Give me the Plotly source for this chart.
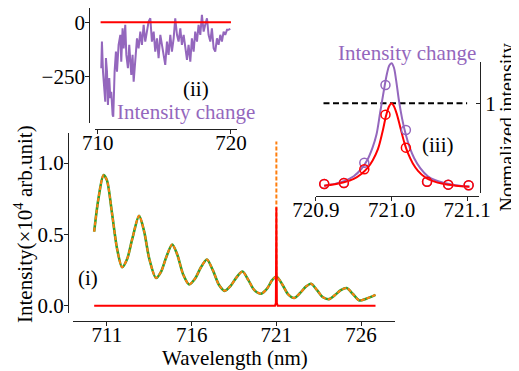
import plotly.graph_objects as go

# The page body has an 8px margin, so the figure is sized to fit the window
# and reference-pixel coordinates are shifted by that margin.
OFF = 8
W, H = 519 - OFF, 371 - OFF
def PX(x): return (x - OFF) / W
def PY(y): return 1 - (y - OFF) / H

FONT = "Liberation Serif"
FS = 21
GREEN = "#2ca02c"
ORANGE = "#ff7f0e"
RED = "#ff0000"
PURPLE = "#9467bd"

# ---------------- (i) main spectrum ----------------
main_wl = [710.25, 710.5, 710.8, 711.0, 711.3, 711.6, 711.9, 712.2, 712.5, 712.9,
           713.2, 713.5, 713.9, 714.2, 714.5, 714.85, 715.15, 715.5, 715.85, 716.2,
           716.55, 716.9, 717.25, 717.6, 717.95, 718.3, 718.65, 719.0, 719.35, 719.7,
           720.1, 720.45, 720.75, 721.0, 721.35, 721.7, 722.05, 722.4, 722.75, 723.05,
           723.4, 723.75, 724.1, 724.45, 724.8, 725.15, 725.5, 725.9, 726.3, 726.85]
main_green = [0.52, 0.75, 0.915, 0.88, 0.65, 0.40, 0.27, 0.33, 0.47, 0.63,
              0.52, 0.33, 0.195, 0.24, 0.34, 0.43, 0.36, 0.22, 0.15, 0.19,
              0.27, 0.325, 0.25, 0.15, 0.105, 0.14, 0.2, 0.24, 0.18, 0.11,
              0.085, 0.12, 0.18, 0.205, 0.15, 0.08, 0.055, 0.09, 0.135, 0.155,
              0.11, 0.06, 0.047, 0.075, 0.11, 0.125, 0.085, 0.038, 0.05, 0.077]
orange_spike_wl = [721.0, 721.0]
orange_spike = [0.205, 1.15]
red_main_wl = [710.25, 720.92, 720.97, 721.0, 721.03, 721.08, 726.85]
red_main = [0.0, 0.0, 0.02, 0.69, 0.02, 0.0, 0.0]
main_xticks = [711, 716, 721, 726]
main_yticks = [0.0, 0.5, 1.0]

# ---------------- (ii) intensity change ----------------
ic_wl = [710.27, 710.32, 710.40, 710.47, 710.57, 710.62, 710.70, 710.77, 710.87, 710.95,
         711.02, 711.12, 711.17, 711.27, 711.37, 711.45, 711.57, 711.70, 711.77, 711.87,
         711.95, 712.07, 712.15, 712.27, 712.37, 712.52, 712.62, 712.70, 712.82, 712.95,
         713.07, 713.20, 713.32, 713.45, 713.57, 713.70, 713.82, 713.95, 714.07, 714.20,
         714.32, 714.45, 714.57, 714.70,
         714.82, 714.95, 715.07, 715.20, 715.32, 715.45, 715.57, 715.70, 715.82, 715.95,
         716.07, 716.20, 716.32, 716.45, 716.57, 716.70, 716.82, 716.95, 717.07, 717.20,
         717.32, 717.45, 717.57, 717.70, 717.82, 717.95, 718.07, 718.20, 718.32, 718.45,
         718.57, 718.70, 718.82, 718.95, 719.07, 719.20, 719.32, 719.45, 719.57, 719.70,
         719.82, 719.95]
ic_val = [-211, -89, -227, -303, -365, -165, -227, -380, -257, -349,
          -320, -425, -434, -227, -135, -227, -104, -58, -181, -28,
          -120, -12, -150, -211, -104, -242, -150, -273, -165, -74,
          -120, -43, -104, -12, -89, -43, 3, 18, -89, -43,
          -135, -74, -165, -58,
          -104, -165, -196, -89, -150, -58, -135, -74, 18, -58,
          -89, -28, -104, -58, -120, -173, -104, -181, -74, -135,
          -43, -89, -12, -58, 34, -43, -12, 18, -58, -89,
          -28, -120, -135, -74, -104, -58, -89, -43, -58, -35,
          -35, -30]
ic_zero_wl = [710.22, 720.0]
ic_zero = [0, 0]
ii_xticks = [710, 720]
ii_yticks = [0, -250]
ii_yticktext = ["0", "\u2212250"]

# ---------------- (iii) normalized peaks ----------------
pt_wl = [720.911, 720.937, 720.964, 720.992, 721.019, 721.047, 721.075, 721.102]
pt_red = [0.103, 0.114, 0.267, 0.874, 0.507, 0.129, 0.096, 0.089]
pt_purple = [0.103, 0.114, 0.340, 1.203, 0.703, 0.129, 0.096, 0.089]
fit_red_wl = [720.911, 720.925, 720.937, 720.950, 720.960, 720.968, 720.975, 720.982,
              720.988, 720.993, 720.997, 721.000, 721.003, 721.007, 721.012, 721.017,
              721.022, 721.028, 721.035, 721.045, 721.055, 721.068, 721.085, 721.103]
fit_red = [0.085, 0.100, 0.122, 0.160, 0.215, 0.280, 0.365, 0.490,
           0.680, 0.870, 0.970, 1.000, 0.970, 0.880, 0.720, 0.560,
           0.440, 0.335, 0.250, 0.175, 0.135, 0.105, 0.085, 0.074]
fit_purple_wl = [720.911, 720.925, 720.937, 720.950, 720.960, 720.968, 720.975, 720.980,
                 720.985, 720.990, 720.994, 720.997, 721.000, 721.003, 721.006, 721.010,
                 721.014, 721.018, 721.024, 721.030, 721.038, 721.048, 721.058, 721.070,
                 721.085, 721.103]
fit_purple = [0.085, 0.105, 0.135, 0.190, 0.270, 0.370, 0.510, 0.650,
              0.900, 1.150, 1.330, 1.420, 1.444, 1.400, 1.260, 1.020,
              0.830, 0.680, 0.510, 0.390, 0.280, 0.190, 0.145, 0.115,
              0.090, 0.075]
ref_wl = [720.91, 721.1]
ref_val = [1, 1]
iii_xticks = [720.9, 721.0, 721.1]
iii_xticktext = ["720.9", "721.0", "721.1"]
iii_yticks = [1]

fig = go.Figure()

# main
fig.add_trace(go.Scatter(x=main_wl, y=main_green, mode="lines", line=dict(color=GREEN, width=2.6, shape="spline", smoothing=0.8),
                         xaxis="x", yaxis="y", showlegend=False))
fig.add_trace(go.Scatter(x=main_wl, y=main_green, mode="lines", line=dict(color=ORANGE, width=2, dash="4px,2px", shape="spline", smoothing=0.8),
                         xaxis="x", yaxis="y", showlegend=False))
fig.add_trace(go.Scatter(x=orange_spike_wl, y=orange_spike, mode="lines", line=dict(color=ORANGE, width=2, dash="4px,2px"),
                         xaxis="x", yaxis="y", showlegend=False))
fig.add_trace(go.Scatter(x=red_main_wl, y=red_main, mode="lines", line=dict(color=RED, width=2),
                         xaxis="x", yaxis="y", showlegend=False))

# inset ii
fig.add_trace(go.Scatter(x=ic_wl, y=ic_val, mode="lines", line=dict(color=PURPLE, width=2),
                         xaxis="x2", yaxis="y2", showlegend=False))
fig.add_trace(go.Scatter(x=ic_zero_wl, y=ic_zero, mode="lines", line=dict(color=RED, width=2),
                         xaxis="x2", yaxis="y2", showlegend=False))

# inset iii
fig.add_trace(go.Scatter(x=ref_wl, y=ref_val, mode="lines", line=dict(color="black", width=2, dash="6px,3.5px"),
                         xaxis="x3", yaxis="y3", showlegend=False))
fig.add_trace(go.Scatter(x=fit_purple_wl, y=fit_purple, mode="lines", line=dict(color=PURPLE, width=2, shape="spline"),
                         xaxis="x3", yaxis="y3", showlegend=False))
fig.add_trace(go.Scatter(x=fit_red_wl, y=fit_red, mode="lines", line=dict(color=RED, width=2, shape="spline"),
                         xaxis="x3", yaxis="y3", showlegend=False))
fig.add_trace(go.Scatter(x=pt_wl, y=pt_purple, mode="markers",
                         marker=dict(symbol="circle-open", size=9, color=PURPLE, line=dict(width=1.5, color=PURPLE)),
                         xaxis="x3", yaxis="y3", showlegend=False))
fig.add_trace(go.Scatter(x=pt_wl, y=pt_red, mode="markers",
                         marker=dict(symbol="circle-open", size=9, color=RED, line=dict(width=1.5, color=RED)),
                         xaxis="x3", yaxis="y3", showlegend=False))

axis_common = dict(showgrid=False, zeroline=False, showline=True, linecolor="#222", linewidth=1.3,
                   ticks="outside", ticklen=4, tickwidth=1.2, tickcolor="#222",
                   tickfont=dict(family=FONT, size=FS, color="black"), automargin=False, fixedrange=True)
xcommon = dict(axis_common, ticklabelstandoff=-9)
ycommon = dict(axis_common, ticklabelstandoff=-4)

fig.update_layout(
    width=W, height=H,
    margin=dict(l=0, r=0, t=0, b=0),
    paper_bgcolor="white", plot_bgcolor="rgba(0,0,0,0)",
    font=dict(family=FONT, size=FS, color="black"),
    xaxis=dict(xcommon, domain=[PX(73), PX(395)], range=[709, 728], anchor="free", position=PY(321),
               tickvals=main_xticks),
    yaxis=dict(ycommon, domain=[PY(313), PY(133)], range=[-0.05, 1.21], anchor="free", position=PX(68),
               tickvals=main_yticks, tickformat=".1f"),
    xaxis2=dict(xcommon, domain=[PX(95), PX(236.7)], range=[709.8, 720.43], anchor="free", position=PY(129),
                tickvals=ii_xticks),
    yaxis2=dict(ycommon, domain=[PY(123), PY(8.3)], range=[-463, 64], anchor="free", position=PX(89.3),
                tickvals=ii_yticks, ticktext=ii_yticktext),
    xaxis3=dict(xcommon, domain=[PX(315.7), PX(479.3)], range=[720.8997, 721.1161], anchor="free", position=PY(195.7),
                tickvals=iii_xticks, ticktext=iii_xticktext),
    yaxis3=dict(axis_common, domain=[PY(193.3), PY(61.7)], range=[0, 1.462], anchor="free", position=PX(480),
                side="right", ticks="inside", tickvals=iii_yticks),
)

def ann(text, x, y, color="black", angle=0, size=FS):
    fig.add_annotation(text=text, x=PX(x), y=PY(y), xref="paper", yref="paper", showarrow=False,
                       xanchor="center", yanchor="middle", textangle=angle,
                       font=dict(family=FONT, size=size, color=color))

ann("Wavelength (nm)", 234.5, 358)
ann("Intensity(\u00d710<sup>4</sup> arb.unit)", 23, 224, angle=-90)
ann("Normalized intensity", 507, 127.5, angle=-90, size=20)
ann("(i)", 88, 278)
ann("(ii)", 196, 89)
ann("(iii)", 437.5, 145)
ann("Intensity change", 186, 112, color=PURPLE)
ann("Intensity change", 406.5, 53, color=PURPLE)

fig.write_html("out.html")
